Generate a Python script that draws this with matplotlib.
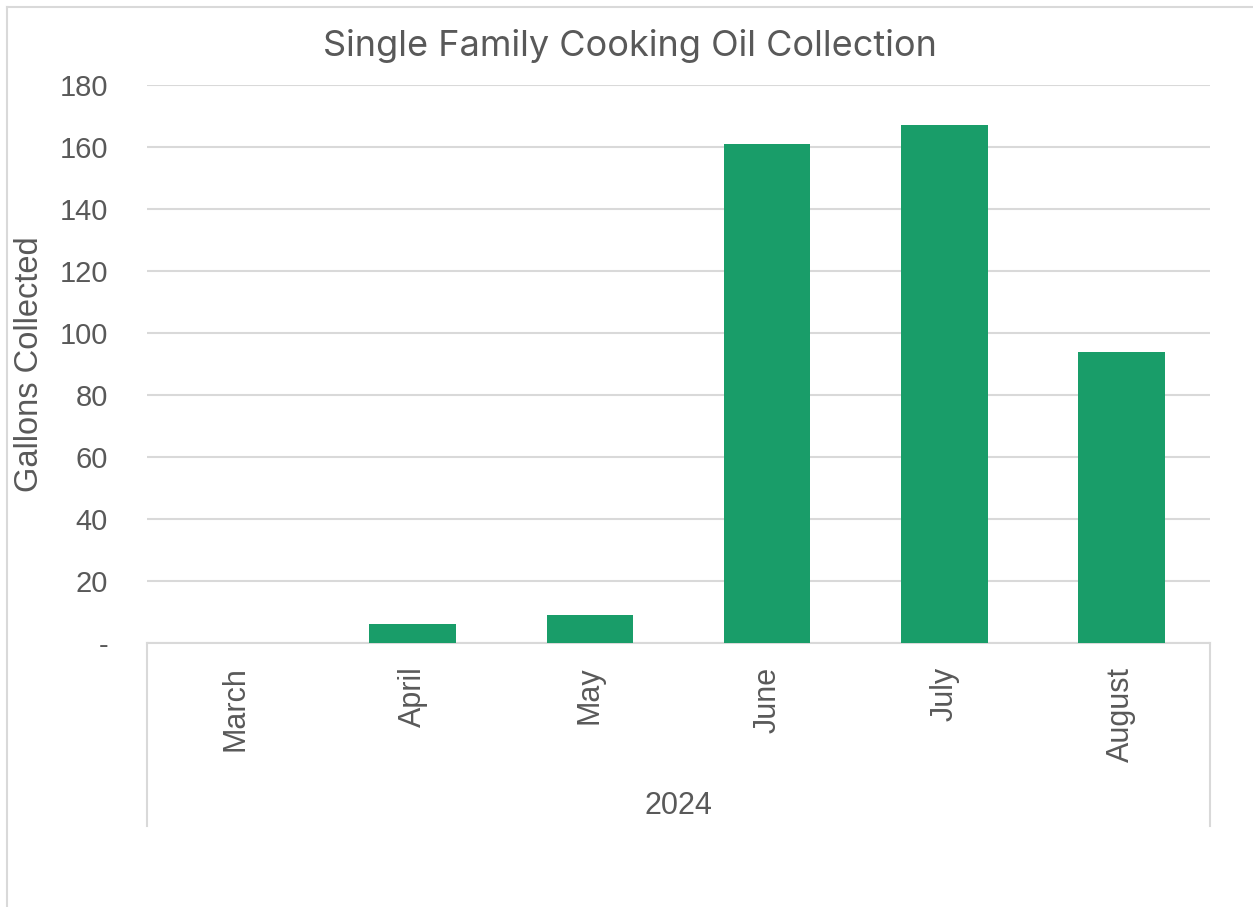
import matplotlib.pyplot as plt
from matplotlib.lines import Line2D
from matplotlib.ticker import FuncFormatter

months = ["March", "April", "May", "June", "July", "August"]
gallons = [0, 6, 9, 161, 167, 94]
year_label = "2024"
y_ticks = [0, 20, 40, 60, 80, 100, 120, 140, 160, 180]

text_color = "#595959"
grid_color = "#d9d9d9"
bar_color = "#199d69"

plt.rcParams["font.family"] = ["Liberation Sans", "DejaVu Sans"]

fig = plt.figure(figsize=(12.53, 9.07), dpi=100)
ax = fig.add_axes([147 / 1253, 1 - 643 / 907, 1063 / 1253, 558 / 907])

x = range(len(months))
ax.bar(x, gallons, width=0.49, color=bar_color, zorder=3)

ax.set_xlim(-0.5, len(months) - 0.5)
ax.set_ylim(0, 180)
ax.set_yticks(y_ticks)
ax.yaxis.set_major_formatter(FuncFormatter(lambda v, p: "-" if v == 0 else f"{v:.0f}"))
ax.grid(axis="y", color=grid_color, linewidth=1.5, zorder=0)

ax.set_xticks(list(x))
ax.set_xticklabels(months, rotation=90, va="top", ha="center")
ax.tick_params(axis="x", length=0, pad=17, labelsize=22, labelcolor=text_color)
ax.tick_params(axis="y", length=0, pad=28, labelsize=21, labelcolor=text_color)

for side in ["top", "right", "left"]:
    ax.spines[side].set_visible(False)
ax.spines["bottom"].set_color(grid_color)
ax.spines["bottom"].set_linewidth(1.5)

# box around the category axis (outer group level)
for xa in [0, 1]:
    ax.add_line(Line2D([xa, xa], [0, -0.328], transform=ax.transAxes,
                       color=grid_color, linewidth=1.5, clip_on=False))
ax.text(0.5, -0.292, year_label, transform=ax.transAxes, ha="center", va="center",
        fontsize=22, color=text_color)

ax.set_ylabel("Gallons Collected", fontsize=23.5, color=text_color)
ax.yaxis.set_label_coords(-(147 - 45) / 1063, 0.5)

fig.text(630 / 1253, 1 - 46 / 907, "Single Family Cooking Oil Collection",
         ha="center", va="center", fontsize=26, color=text_color,
         family=["Inter", "DejaVu Sans"])

# chart area border
fig.add_artist(Line2D([7 / 1253, 7 / 1253], [0, 1 - 7 / 907], transform=fig.transFigure,
                      color=grid_color, linewidth=1.5))
fig.add_artist(Line2D([7 / 1253, 1], [1 - 7 / 907, 1 - 7 / 907], transform=fig.transFigure,
                      color=grid_color, linewidth=1.5))

fig.savefig("out.png", dpi=100)
